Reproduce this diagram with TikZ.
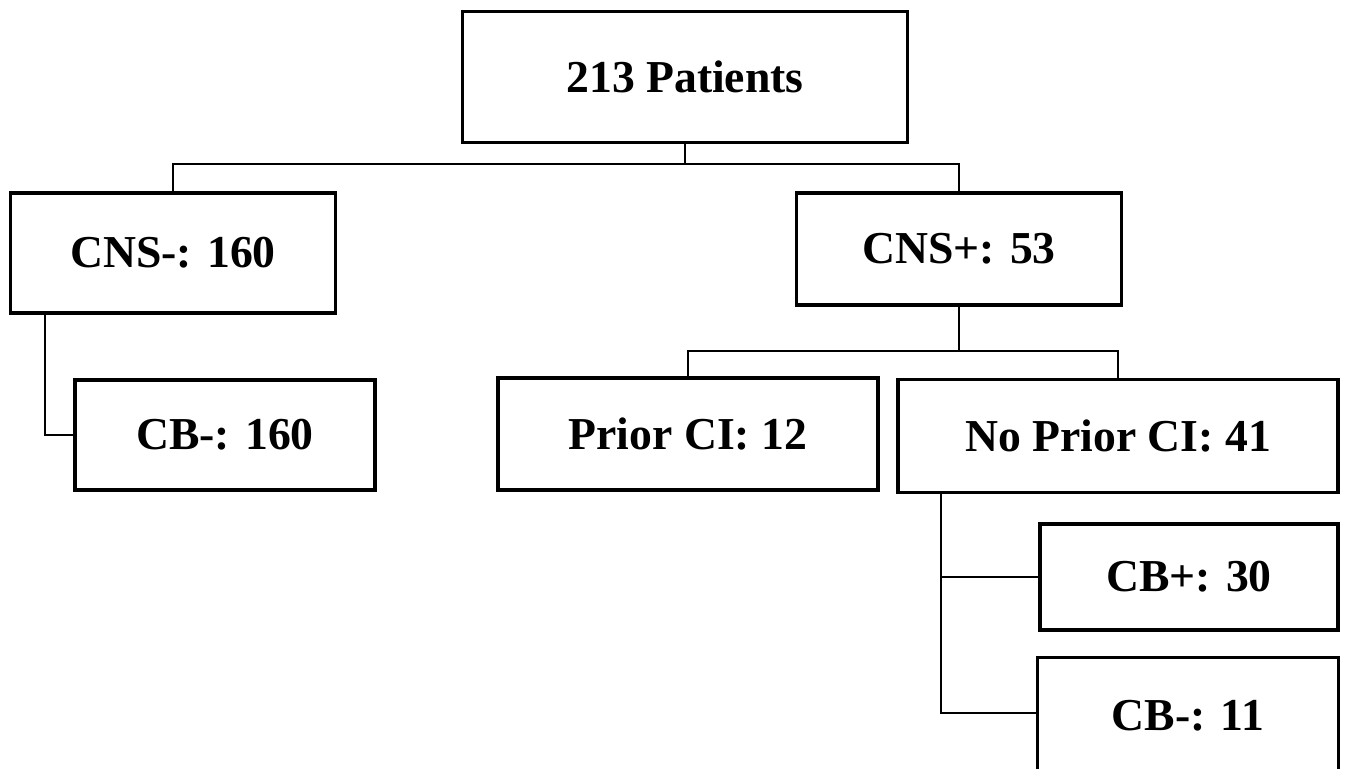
\documentclass[tikz,border=0pt]{standalone}
\usepackage{fontspec}
\setmainfont{Liberation Serif}
\usepackage{tikz}
\usetikzlibrary{positioning}

\begin{document}
\begin{tikzpicture}[x=0.02cm, y=-0.02cm,
    box/.style={draw, line width=2.2pt, rectangle, inner sep=0pt,
                font=\fontsize{26}{30}\selectfont\bfseries},
    link/.style={draw, line width=1.1pt}]
  \useasboundingbox (0,0) rectangle (1348,768);
  % boxes
  \node[box, minimum width=8.9cm, minimum height=2.62cm] (total) at (685,77) {213 Patients};
  \node[box, minimum width=6.5cm, minimum height=2.4cm] (cnsneg) at (173,253) {CNS-: 160};
  \node[box, minimum width=6.5cm, minimum height=2.24cm] (cnspos) at (959,249) {CNS+: 53};
  \node[box, minimum width=6.0cm, minimum height=2.2cm] (cbnegA) at (225,435) {CB-: 160};
  \node[box, minimum width=7.6cm, minimum height=2.24cm] (prior) at (688,434) {Prior CI: 12};
  \node[box, minimum width=8.8cm, minimum height=2.26cm] (noprior) at (1118,436) {No Prior CI: 41};
  \node[box, minimum width=5.96cm, minimum height=2.12cm] (cbpos) at (1189,577) {CB+: 30};
  \node[box, minimum width=6.02cm, minimum height=2.34cm] (cbnegB) at (1188,716) {CB-: 11};
  % connectors
  \draw[link] (total.south) -- ++(0,20) coordinate (split1);
  \draw[link] (split1) -| (cnsneg.north);
  \draw[link] (split1) -| (cnspos.north);
  \draw[link] ([xshift=0.72cm]cnsneg.south west) |- (cbnegA.west);
  \draw[link] (cnspos.south) -- ++(0,44) coordinate (split2);
  \draw[link] (split2) -| (prior.north);
  \draw[link] (split2) -| (noprior.north);
  \draw[link] ([xshift=0.9cm]noprior.south west) |- (cbpos.west);
  \draw[link] ([xshift=0.9cm]noprior.south west) |- ([yshift=0.06cm]cbnegB.west);
\end{tikzpicture}
\end{document}
